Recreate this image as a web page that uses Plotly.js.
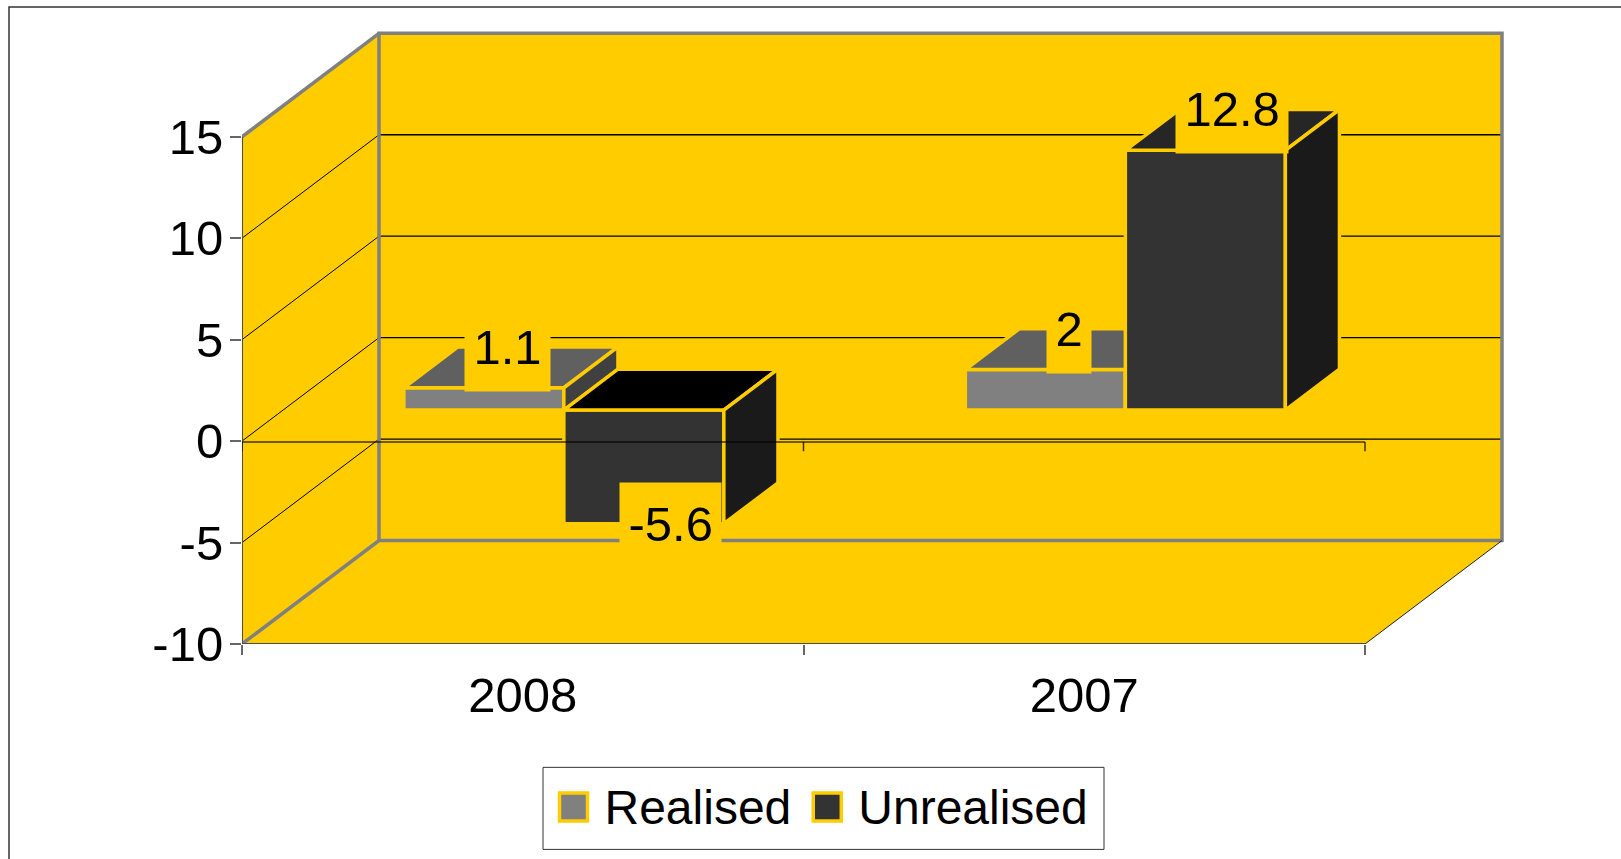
<!DOCTYPE html>
<html>
<head>
<meta charset="utf-8">
<script src="https://cdn.plot.ly/plotly-3.0.1.min.js"></script>
<style>html,body{margin:0;padding:0;background:#fff;overflow:hidden}</style>
</head>
<body>
<div id="chart" style="width:1621px;height:859px"></div>
<script>
const categories = ['2008', '2007'];
const seriesNames = ['Realised', 'Unrealised'];
const realised = [1.1, 2];
const unrealised = [-5.6, 12.8];
const yTicks = [-10, -5, 0, 5, 10, 15];
const yTickText = ['-10', '-5', '0', '5', '10', '15'];

// page geometry
const W = 1621, H = 859, L = 242, R = 1515, T = 20, B = 643.7;
const PX_PER_CAT = 561.5, PX_PER_UNIT = 20.28;
const DEPTH_PX_X = 137, DEPTH_PX_Y = 103.4;
const DX = DEPTH_PX_X / PX_PER_CAT, DY = DEPTH_PX_Y / PX_PER_UNIT;
const yMin = -10, yMax = yMin + (B - T) / PX_PER_UNIT;
const xMax = (R - L) / PX_PER_CAT;
const nCat = categories.length, vTop = 15;
const paperX = px => (px - L) / (R - L);
const paperY = py => (B - py) / (B - T);

// colours
const WALL = '#FFCC00', EDGE = '#808080', AXIS = '#4d4d4d';
const faces = [
  {front: '#808080', top: '#606060', topNeg: '#606060', side: '#404040'},
  {front: '#333333', top: '#262626', topNeg: '#000000', side: '#1a1a1a'}
];

// oblique projection: depth d in 0..1 front-to-back of the plot box
const P = (x, v, d) => [x + d * DX, v + d * DY];
const pathOf = pts => 'M' + pts.map(p => p[0] + ' ' + p[1]).join('L');
const closed = pts => pathOf(pts) + 'Z';

const BAR_PLANE = 0.3, BAR_DEPTH = 0.395, BAR_W = 160 / PX_PER_CAT;
const BASE = BAR_PLANE * DY;

const shapes = [];
const fillShape = pts => shapes.push({type: 'path', xref: 'x', yref: 'y', layer: 'below', path: closed(pts), fillcolor: WALL, line: {width: 0}});
const lineShape = (pts, color, width) => shapes.push({type: 'path', xref: 'x', yref: 'y', layer: 'below', path: pathOf(pts), line: {color: color, width: width}});

// walls
fillShape([P(0, yMin, 0), P(0, vTop, 0), P(0, vTop, 1), P(0, yMin, 1)]);
fillShape([P(0, yMin, 0), P(nCat, yMin, 0), P(nCat, yMin, 1), P(0, yMin, 1)]);
fillShape([P(0, yMin, 1), P(nCat, yMin, 1), P(nCat, vTop, 1), P(0, vTop, 1)]);

// gridlines
yTicks.filter(v => v > yMin && v < vTop).forEach(v => {
  lineShape([P(0, v, 0), P(0, v, 1)], '#000000', 1);
  lineShape([P(0, v, 1), P(nCat, v, 1)], '#000000', 1.3);
});

// wall edges
lineShape([P(0, yMin, 0), P(0, yMin, 1), P(nCat, yMin, 1), P(nCat, vTop, 1), P(0, vTop, 1), P(0, yMin, 1)], EDGE, 3.5);
lineShape([P(0, vTop, 0), P(0, vTop, 1)], EDGE, 3.5);
lineShape([P(nCat, yMin, 0), P(nCat, yMin, 1)], '#222222', 1);

// outer frame and legend box
shapes.push({type: 'path', xref: 'paper', yref: 'paper', layer: 'below',
  path: `M${paperX(9)} ${paperY(H + 5)}L${paperX(9)} ${paperY(7)}L${paperX(W + 5)} ${paperY(7)}`,
  line: {color: '#333333', width: 1.5}});
shapes.push({type: 'rect', xref: 'paper', yref: 'paper', layer: 'below',
  x0: paperX(543), x1: paperX(1104), y0: paperY(767), y1: paperY(849),
  line: {color: '#333333', width: 1}});

const traces = [];
const annotations = [];
const FONT = '"Liberation Sans", Arial, sans-serif';
const FS = 49;

[realised, unrealised].forEach((vals, s) => {
  const z = s + 1;
  const left = s === 0 ? -BAR_W : 0;
  traces.push({
    type: 'bar', name: seriesNames[s], zorder: z,
    x: categories.map((c, i) => i + 0.5 + BAR_PLANE * DX),
    y: vals, base: vals.map(() => BASE),
    width: vals.map(() => BAR_W), offset: vals.map(() => left),
    marker: {color: faces[s].front, line: {color: WALL, width: 3.5}},
    hoverinfo: 'skip'
  });
  vals.forEach((v, i) => {
    const c = i + 0.5;
    const x0 = c + left, x1 = x0 + BAR_W;
    const hi = Math.max(v, 0), lo = Math.min(v, 0);
    const d0 = BAR_PLANE, d1 = BAR_PLANE + BAR_DEPTH;
    const poly = (pts, color) => traces.push({
      type: 'scatter', mode: 'lines', zorder: z, showlegend: false, hoverinfo: 'skip',
      x: pts.map(p => p[0]), y: pts.map(p => p[1]), fill: 'toself', fillcolor: color,
      line: {color: WALL, width: 3.5}
    });
    poly([P(x0, hi, d0), P(x1, hi, d0), P(x1, hi, d1), P(x0, hi, d1), P(x0, hi, d0)], v < 0 ? faces[s].topNeg : faces[s].top);
    poly([P(x1, lo, d0), P(x1, hi, d0), P(x1, hi, d1), P(x1, lo, d1), P(x1, lo, d0)], faces[s].side);
    const a = P((x0 + x1) / 2, v, d0 + BAR_DEPTH / 2);
    annotations.push({
      xref: 'x', yref: 'y', x: a[0], y: a[1], text: String(v), showarrow: false,
      xanchor: 'center', yanchor: 'middle', yshift: v < 0 ? -20 : 21, xshift: s === 0 ? -3 : 0,
      bgcolor: WALL, borderpad: 8.5, height: v < 0 ? 64 : 72,
      font: {family: FONT, size: FS, color: '#000'}
    });
  });
});

// axes lines drawn on top of the bars
const ZERO_LINE = -0.04;
const axisLine = (xs, ys, color, width) => traces.push({
  type: 'scatter', mode: 'lines', zorder: 3, showlegend: false, hoverinfo: 'skip', cliponaxis: false,
  x: xs, y: ys, line: {color: color, width: width}
});
axisLine([0, 0], [yMin, vTop], AXIS, 2);
axisLine([0, nCat], [yMin, yMin], AXIS, 2);
axisLine([0, nCat], [ZERO_LINE, ZERO_LINE], 'rgba(0,0,0,0.75)', 1.5);
const bounds = [];
for (let i = 0; i <= nCat; i++) bounds.push(i);
bounds.forEach(b => axisLine([b, b], [ZERO_LINE, -0.5], 'rgba(0,0,0,0.75)', 1.5));

const layout = {
  width: W, height: H, autosize: false,
  margin: {l: L, r: W - R, t: T, b: H - B, pad: 0, autoexpand: false},
  paper_bgcolor: '#ffffff', plot_bgcolor: 'rgba(0,0,0,0)',
  barmode: 'overlay',
  font: {family: FONT, size: FS, color: '#000'},
  xaxis: {
    type: 'linear', range: [0, xMax], showgrid: false, zeroline: false, showline: false,
    tickmode: 'array', tickvals: categories.map((c, i) => i + 0.5), ticktext: categories,
    ticks: '', ticklabelstandoff: 18,
    minor: {tickmode: 'array', tickvals: bounds, ticks: 'outside', ticklen: 10, tickwidth: 1.5, tickcolor: '#666666', showgrid: false}
  },
  yaxis: {
    type: 'linear', range: [yMin, yMax], showgrid: false, zeroline: false, showline: false,
    tickmode: 'array', tickvals: yTicks, ticktext: yTickText,
    ticks: 'outside', ticklen: 11, tickwidth: 1.5, tickcolor: '#666666', ticklabelstandoff: -3
  },
  legend: {
    orientation: 'h', x: paperX(542.5), y: paperY(805), xanchor: 'left', yanchor: 'middle',
    bgcolor: 'rgba(0,0,0,0)', borderwidth: 0, itemwidth: 52, font: {family: FONT, size: 48, color: '#000'},
    itemclick: false, itemdoubleclick: false
  },
  shapes: shapes,
  annotations: annotations
};

const bigSwatches = gd => gd.querySelectorAll('.legendpoints path').forEach(p => p.setAttribute('d', 'M14,16H-14V-12H14Z'));
Plotly.newPlot('chart', traces, layout, {displayModeBar: false}).then(gd => {
  bigSwatches(gd);
  gd.on('plotly_afterplot', () => bigSwatches(gd));
  requestAnimationFrame(() => bigSwatches(gd));
});
</script>
</body>
</html>
